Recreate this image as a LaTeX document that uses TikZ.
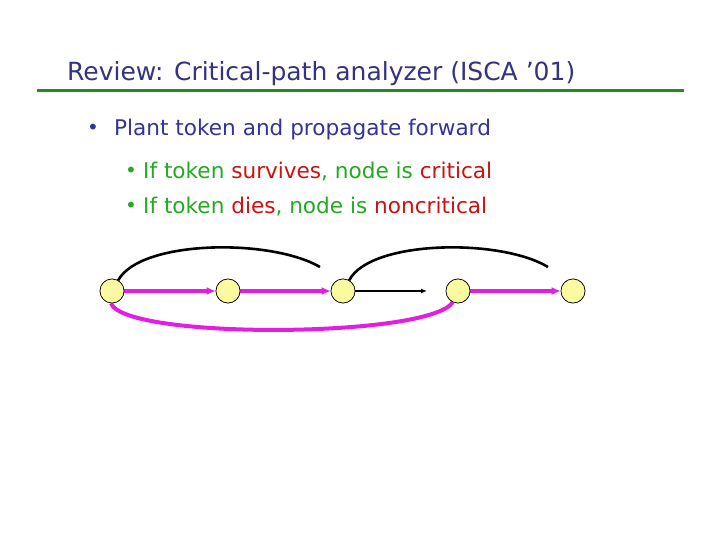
\documentclass[tikz,border=0pt]{standalone}
\usepackage{fontspec}
\setmainfont{DejaVu Sans}
\usetikzlibrary{arrows.meta}
\definecolor{ttl}{RGB}{51,51,128}
\definecolor{lvone}{RGB}{51,51,153}
\definecolor{gtxt}{RGB}{34,170,34}
\definecolor{rtxt}{RGB}{204,17,17}
\definecolor{gline}{RGB}{34,139,34}
\definecolor{mag}{RGB}{225,30,225}
\definecolor{nfill}{RGB}{250,250,160}
\tikzset{
  vtx/.style={circle,draw=black,line width=0.6pt,fill=nfill,minimum size=24pt,inner sep=0pt},
  magarrow/.style={draw=mag,line width=4pt,-{Latex[length=9pt,width=8pt]}},
  magline/.style={draw=mag,line width=4pt},
  blkline/.style={draw=black,line width=2.6pt},
  blkarrow/.style={draw=black,line width=2.8pt,-{Latex[length=6pt,width=5pt]}},
  txt/.style={inner sep=0pt,anchor=base west},
  bul/.style={inner sep=0pt,anchor=base,font=\fontsize{20}{22}\selectfont},
  body/.style={txt,font=\fontsize{21.6}{24}\selectfont}
}
\begin{document}
\begin{tikzpicture}[x=1pt,y=-1pt]
\useasboundingbox (0,0) rectangle (720,540);
\fill[white] (0,0) rectangle (720,540);
% title
\node[txt,text=ttl,font=\fontsize{25}{30}\selectfont] (title) at (67,81) {Review: Critical-path analyzer (ISCA ’01)};
\draw[gline,line width=3pt] (37,91) -- (684,91);
% bullets
\node[bul,text=lvone] (b1) at (93,135) {•};
\node[body,text=lvone] (t1) at (114,136) {Plant token and propagate forward};
\node[bul,text=gtxt] (b2) at (131,178) {•};
\node[body,text=gtxt] (t2) at (143,179) {If token \textcolor{rtxt}{survives}, node is \textcolor{rtxt}{critical}};
\node[bul,text=gtxt] (b3) at (131,213) {•};
\node[body,text=gtxt] (t3) at (143,214) {If token \textcolor{rtxt}{dies}, node is \textcolor{rtxt}{noncritical}};
% graph
\node[vtx] (n1) at (112,291) {};
\node[vtx] (n2) at (228,291) {};
\node[vtx] (n3) at (343,291) {};
\node[vtx] (n4) at (458,291) {};
\node[vtx] (n5) at (573,291) {};
\coordinate (e1) at (320,267);
\coordinate (e2) at (548,267);
\coordinate (e3) at (427,291);
\draw[blkline] (n1.60) .. controls (140,240) and (270,238) .. (e1);
\draw[blkline] (n3.60) .. controls (370,240) and (500,238) .. (e2);
\draw[blkarrow] (n3.east) -- (e3);
\draw[magarrow] (n1.east) -- (n2.west);
\draw[magarrow] (n2.east) -- (n3.west);
\draw[magarrow] (n4.east) -- (n5.west);
\draw[magline] (n1.-95) .. controls (125,340) and (430,338) .. (n4.-115);
\node[vtx] at (n1) {};
\node[vtx] at (n2) {};
\node[vtx] at (n3) {};
\node[vtx] at (n4) {};
\node[vtx] at (n5) {};
\end{tikzpicture}
\end{document}
